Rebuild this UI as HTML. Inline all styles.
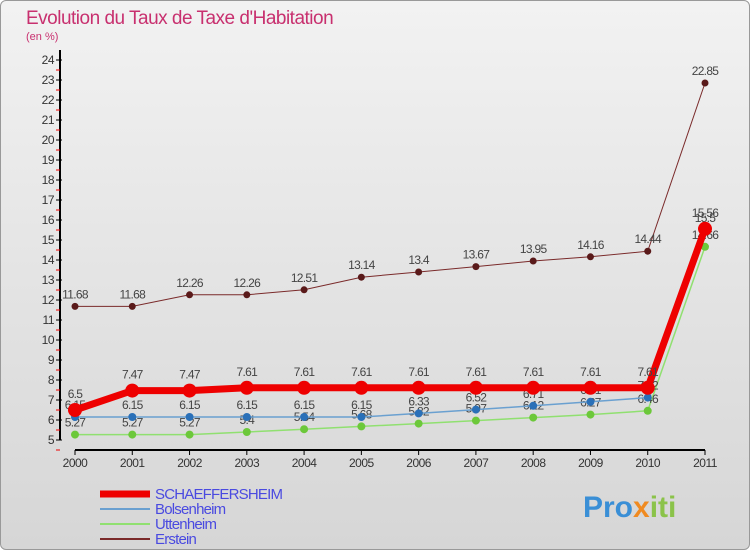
<!DOCTYPE html>
<html><head><meta charset="utf-8"><style>
body{margin:0;width:750px;height:550px;overflow:hidden;font-family:"Liberation Sans",sans-serif}
#wrap{position:absolute;left:0;top:0;width:748px;height:548px;border:1px solid #999;border-radius:6px;background:linear-gradient(#f2f2f2,#d6d6d6)}
</style></head><body>
<div id="wrap"></div>
<svg id="c" width="750" height="550" style="position:absolute;left:0;top:0">
<text x="26" y="24" font-size="19" fill="#c8306f" letter-spacing="-0.5">Evolution du Taux de Taxe d'Habitation</text>
<text x="26" y="40" font-size="11" fill="#c8306f">(en %)</text>
<g id="g"></g>
<text x="583" y="517" font-size="30" font-weight="bold" fill="#3a8fd6">Pro<tspan fill="#f08a20">x</tspan><tspan fill="#8bc34a">iti</tspan></text>
</svg>
<script>
const years=["2000","2001","2002","2003","2004","2005","2006","2007","2008","2009","2010","2011"];
const schaef=[6.5,7.47,7.47,7.61,7.61,7.61,7.61,7.61,7.61,7.61,7.61,15.56];
const bolsen=[6.15,6.15,6.15,6.15,6.15,6.15,6.33,6.52,6.71,6.91,7.12,15.5];
const utten=[5.27,5.27,5.27,5.4,5.54,5.68,5.82,5.97,6.12,6.27,6.46,14.66];
const erstein=[11.68,11.68,12.26,12.26,12.51,13.14,13.4,13.67,13.95,14.16,14.44,22.85];
const yTicks=[5,6,7,8,9,10,11,12,13,14,15,16,17,18,19,20,21,22,23,24];
const X=i=>75+i*(630/11), Y=v=>440-(v-5)*20;
const g=document.getElementById('g'),NS="http://www.w3.org/2000/svg";
function mk(t,a,p){const e=document.createElementNS(NS,t);for(const k in a)e.setAttribute(k,a[k]);(p||g).appendChild(e);return e;}
let e;
e=mk('line',{x1:60,y1:50,x2:60,y2:440,stroke:'#000','stroke-width':2});


e=mk('line',{x1:75,y1:450,x2:705,y2:450,stroke:'#000','stroke-width':2});


yTicks.forEach(v=>{
 mk('line',{x1:56,y1:Y(v),x2:62,y2:Y(v),stroke:'#000'});
 mk('line',{x1:56,y1:Y(v)+10,x2:60,y2:Y(v)+10,stroke:'#e00'});
 e=mk('text',{x:54,y:Y(v)+4,'font-size':12,fill:'#333','text-anchor':'end','letter-spacing':'-0.5'});e.textContent=v;
 
 
});
years.forEach((y,i)=>{
 mk('line',{x1:X(i),y1:450,x2:X(i),y2:455,stroke:'#000'});
 e=mk('text',{x:X(i),y:467,'font-size':12,fill:'#333','text-anchor':'middle','letter-spacing':'-0.5'});e.textContent=y;
 
 
});
function series(d,col,w,r,dot,name,lblOff){
 e=mk('polyline',{points:d.map((v,i)=>X(i)+','+Y(v)).join(' '),fill:'none',stroke:col,'stroke-width':w});
 
 
 d.forEach((v,i)=>{
  e=mk('circle',{cx:X(i),cy:Y(v),r:r,fill:dot});
  
  
  e=mk('text',{x:X(i),y:Y(v)+lblOff,'font-size':12,fill:'#444','text-anchor':'middle','letter-spacing':'-0.7'});e.textContent=v;
  
  
 });
}
series(erstein,'#7a2a2a',1,3.5,'#5a1a1a','erstein',-8);
series(utten,'#90e070',1.5,4,'#6cc83a','uttenheim',-8);
series(bolsen,'#6aa0d0',1.5,4,'#2a70b8','bolsenheim',-8);
series(schaef,'#ee0000',7,7,'#ee0000','schaeffersheim',-12);
const leg=[['SCHAEFFERSHEIM','#ee0000',7],['Bolsenheim','#6aa0d0',2],['Uttenheim','#90e070',2],['Erstein','#7a2a2a',2]];
leg.forEach((l,i)=>{
 const y=494+i*15;
 e=mk('line',{x1:100,y1:y,x2:150,y2:y,stroke:l[1],'stroke-width':l[2]});
 
 
 e=mk('text',{x:155,y:y+5,'font-size':15,fill:'#4a4ae0','letter-spacing':'-0.8'});e.textContent=l[0];
 
 
});
</script>
</body></html>
